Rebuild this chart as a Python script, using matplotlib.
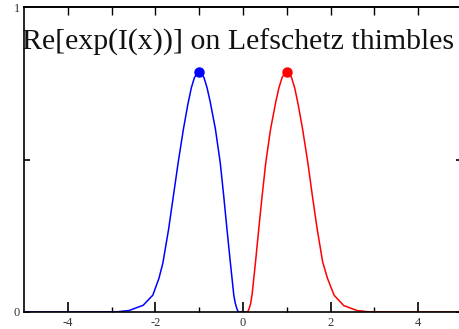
import matplotlib
matplotlib.use("Agg")
import matplotlib.pyplot as plt

# values
blue_x = [-5.0, -3.3, -2.85, -2.6, -2.28, -2.06, -1.92, -1.83, -1.70, -1.59, -1.48, -1.36,
          -1.26, -1.18, -1.11, -1.05, -1.0, -0.95, -0.89, -0.82, -0.75, -0.63, -0.52, -0.44,
          -0.365, -0.29, -0.21, -0.175, -0.14, -0.12, -0.10, 0.0]
blue_y = [0.0, 0.0, 0.001, 0.005, 0.022, 0.055, 0.11, 0.16, 0.27, 0.38, 0.49, 0.60,
          0.68, 0.735, 0.768, 0.783, 0.788, 0.783, 0.768, 0.735, 0.69, 0.60, 0.49, 0.38,
          0.27, 0.164, 0.055, 0.028, 0.011, 0.004, 0.0, 0.0]

red_x = [0.0, 0.10, 0.12, 0.14, 0.175, 0.21, 0.29, 0.365, 0.44, 0.52, 0.63, 0.75, 0.82,
         0.89, 0.95, 1.0, 1.05, 1.11, 1.18, 1.26, 1.36, 1.48, 1.58, 1.69, 1.82, 1.93, 2.08,
         2.3, 2.6, 2.85, 3.3, 5.0]
red_y = [0.0, 0.0, 0.004, 0.011, 0.028, 0.06, 0.17, 0.28, 0.385, 0.49, 0.60, 0.69, 0.735,
         0.768, 0.783, 0.788, 0.783, 0.768, 0.735, 0.68, 0.60, 0.49, 0.385, 0.275, 0.163,
         0.11, 0.055, 0.021, 0.005, 0.001, 0.0, 0.0]

peaks_x = [-1.0, 1.0]
peaks_y = [0.788, 0.788]
peak_colors = ["#0000ff", "#ff0000"]

xticks = [-4, -2, 0, 2, 4]
xtick_labels = ["-4", "-2", "0", "2", "4"]
yticks = [0, 0.5, 1]
ytick_labels = ["0", "", "1"]

plt.rcParams["font.family"] = "Liberation Serif"
plt.rcParams["axes.unicode_minus"] = False

W, H = 460, 329
fig = plt.figure(figsize=(W / 100, H / 100), dpi=100)
ax = fig.add_axes([24 / W, 1 - 312 / H, 438 / W, 305 / H])

ax.plot(blue_x, blue_y, color="#0000ff", lw=1.1)
ax.plot(red_x, red_y, color="#ff0000", lw=1.1)
for px, py, c in zip(peaks_x, peaks_y, peak_colors):
    ax.plot(px, py, "o", color=c, ms=6.5, zorder=5)

ax.set_xlim(-5, 5)
ax.set_ylim(0, 1)

ax.set_xticks(xticks)
ax.set_xticklabels(xtick_labels)
ax.set_xticks([-3, -1, 1, 3], minor=True)
ax.set_yticks(yticks)
ax.set_yticklabels(ytick_labels)

ax.tick_params(axis="x", which="major", direction="in", length=7, width=1.2,
               labelsize=9, labelcolor="#333333", pad=3.5, top=False)
ax.tick_params(axis="x", which="minor", direction="in", length=3.5, width=1.0, top=False)
ax.tick_params(axis="y", direction="in", length=4, width=1.2, right=True,
               labelsize=9, labelcolor="#333333", pad=3)

top = ax.secondary_xaxis("top")
top.set_xticks(range(-4, 6))
top.tick_params(direction="in", length=6, width=1.0, labeltop=False)
top.spines["top"].set_linewidth(1.2)

for s in ax.spines.values():
    s.set_linewidth(1.2)

fig.text(22 / W, 1 - 50 / H, "Re[exp(I(x))] on Lefschetz thimbles",
         fontsize=21.5, va="baseline", ha="left", color="#111111")

fig.savefig("out.png", dpi=100)
